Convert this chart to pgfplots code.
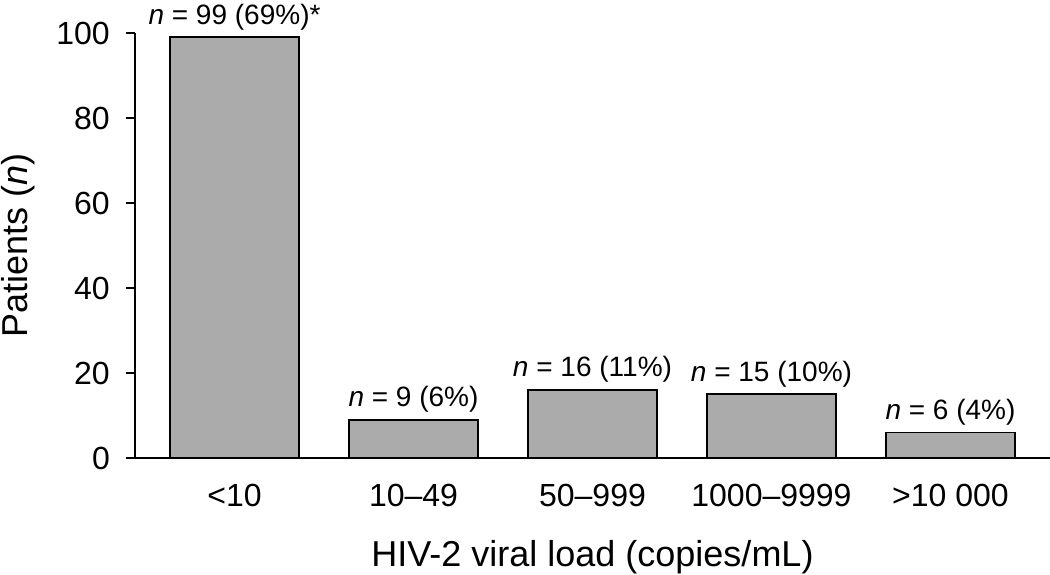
\documentclass[border=0pt]{standalone}
\usepackage{fontspec}
\setmainfont{Liberation Sans}
\usepackage{pgfplots}
\pgfplotsset{compat=1.18}
\definecolor{barfill}{HTML}{ABABAB}

\begin{document}
\begin{tikzpicture}
\begin{axis}[
    scale only axis, width=915pt, height=425pt,
    at={(0,0)}, anchor=south west,
    axis lines=left,
    axis line style={line width=1.6pt, black, -},
    x axis line style={shorten <=-9pt},
    xmin=-0.556, xmax=4.556, ymin=0, ymax=100,
    ytick={0,20,40,60,80,100},
    tick align=outside, major tick length=9pt,
    y tick style={line width=1.6pt, black},
    x tick style={draw=none},
    xtick=data,
    xticklabels={<10, 10--49, 50--999, 1000--9999, >10~000},
    /pgf/number format/assume math mode=true,
    tick label style={font=\fontsize{32}{38}\selectfont},
    yticklabel style={anchor=east, inner sep=0pt, xshift=-16pt},
    xticklabel style={anchor=base, yshift=-40pt},
    xlabel={HIV-2 viral load (copies/mL)},
    ylabel={Patients (\textit{n})},
    label style={font=\fontsize{36}{42}\selectfont},
    xlabel style={at={(axis description cs:0.5,0)}, anchor=base, yshift=-109pt},
    ylabel style={at={([xshift=-117pt]axis description cs:0,0.5)}, anchor=center, rotate=0},
    ybar, bar width=129pt,
    nodes near coords, point meta=explicit symbolic,
    nodes near coords style={font=\fontsize{28}{33}\selectfont, anchor=base, inner sep=0pt, yshift=13pt},
]
\addplot[draw=black, line width=1.6pt, fill=barfill] coordinates {
    (0,99) [\textit{n} = 99 (69\%)*]
    (1,9)  [\textit{n} = 9 (6\%)]
    (2,16) [\textit{n} = 16 (11\%)]
    (3,15) [\textit{n} = 15 (10\%)]
    (4,6)  [\textit{n} = 6 (4\%)]
};
\end{axis}
\pgfresetboundingbox
\path[use as bounding box] (-135pt,-117pt) rectangle (915pt,458pt);
\end{tikzpicture}
\end{document}
